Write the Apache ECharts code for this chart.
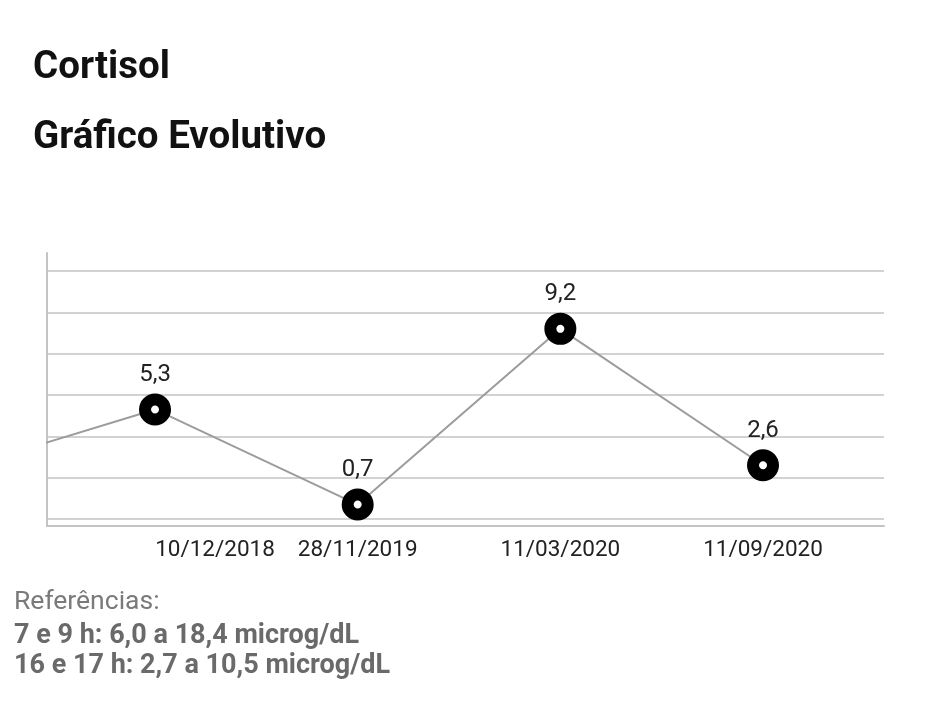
<!DOCTYPE html>
<html>
<head>
<meta charset="utf-8">
<script src="https://cdn.jsdelivr.net/npm/echarts@6/dist/echarts.min.js"></script>
<style>
  html, body { margin: 0; padding: 0; background: #fff; }
  #chart { width: 937px; height: 701px; }
</style>
</head>
<body>
<div id="chart"></div>
<script>
const titleText = 'Cortisol';
const subtitleText = 'Gráfico Evolutivo';
const categories = ['10/12/2018', '28/11/2019', '11/03/2020', '11/09/2020'];
const values = [5.3, 0.7, 9.2, 2.6];
const previousValue = 2.3; // earlier result, drawn off the left edge
const yTicks = [0, 2, 4, 6, 8, 10, 12];
const referenceLines = [
  'Referências:',
  '7 e 9 h: 6,0 a 18,4 microg/dL',
  '16 e 17 h: 2,7 a 10,5 microg/dL'
];

const FONT = 'Roboto';
const chart = echarts.init(document.getElementById('chart'), null, { renderer: 'canvas' });

const seriesData = [{ value: [-1, previousValue], symbol: 'none', label: { show: false } }]
  .concat(values.map((v, i) => [i, v]));

chart.setOption({
  animation: false,
  backgroundColor: '#ffffff',
  textStyle: { fontFamily: FONT },
  graphic: [
    { type: 'text', x: 33, y: 68, style: { text: titleText, font: 'bold 38.5px ' + FONT, fill: '#111', verticalAlign: 'middle' } },
    { type: 'text', x: 33, y: 138.5, style: { text: subtitleText, font: 'bold 38.5px ' + FONT, fill: '#111', verticalAlign: 'middle' } },
    { type: 'text', x: 14, y: 602, style: { text: referenceLines[0], font: '26.5px ' + FONT, fill: '#7a7a7a', verticalAlign: 'middle' } },
    { type: 'text', x: 14, y: 636, style: { text: referenceLines[1], font: 'bold 27px ' + FONT, fill: '#6a6a6a', verticalAlign: 'middle' } },
    { type: 'text', x: 14, y: 666, style: { text: referenceLines[2], font: 'bold 27px ' + FONT, fill: '#6a6a6a', verticalAlign: 'middle' } }
  ],
  grid: [
    { left: 47, right: 53, top: 271, bottom: 182, containLabel: false },
    { left: 47, right: 53, top: 253, bottom: 175, containLabel: false }
  ],
  xAxis: [
    {
      gridIndex: 0, type: 'value', min: -0.533, max: 3.597,
      splitLine: { show: false }, axisLine: { show: false }, axisTick: { show: false },
      axisLabel: {
        show: true, customValues: [0, 1, 2, 3],
        formatter: v => {
          const i = Math.round(v);
          return i === 0 ? '{first|' + categories[i] + '}' : (categories[i] || '');
        },
        rich: { first: { fontSize: 22.5, color: '#222', fontFamily: FONT, padding: [0, 0, 0, 120] } },
        fontSize: 22.5, color: '#222', margin: 20, fontFamily: FONT
      }
    },
    {
      gridIndex: 1, type: 'value', min: 0, max: 1,
      splitLine: { show: false }, axisTick: { show: false }, axisLabel: { show: false },
      axisLine: { show: true, lineStyle: { color: '#c4c4c4', width: 2 } }
    }
  ],
  yAxis: [
    {
      gridIndex: 0, type: 'value', min: yTicks[0], max: yTicks[yTicks.length - 1], interval: 2,
      axisLine: { show: false }, axisTick: { show: false }, axisLabel: { show: false },
      splitLine: { show: true, lineStyle: { color: '#d2d2d2', width: 2 } }
    },
    {
      gridIndex: 1, type: 'value', min: 0, max: 1,
      splitLine: { show: false }, axisTick: { show: false }, axisLabel: { show: false },
      axisLine: { show: true, lineStyle: { color: '#c4c4c4', width: 2 } }
    }
  ],
  series: [
    {
      type: 'line', xAxisIndex: 0, yAxisIndex: 0,
      data: seriesData,
      clip: true,
      symbol: 'circle', symbolSize: 20,
      lineStyle: { color: '#9c9c9c', width: 2 },
      itemStyle: { color: '#ffffff', borderColor: '#000000', borderWidth: 12 },
      label: {
        show: true, position: 'top', distance: 6.5,
        fontSize: 24, color: '#222', fontFamily: FONT,
        formatter: p => String(p.value[1]).replace('.', ',')
      },
      emphasis: { disabled: true },
      z: 5
    }
  ]
});
</script>
</body>
</html>
